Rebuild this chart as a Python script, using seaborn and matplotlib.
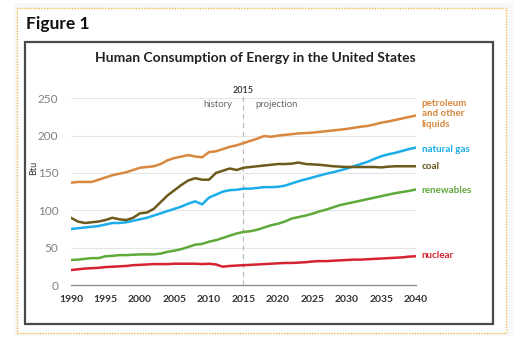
import numpy as np
import pandas as pd
import seaborn as sns
import matplotlib
matplotlib.use("Agg")
import matplotlib.pyplot as plt
from matplotlib.patches import Rectangle

years = list(range(1990, 2041))
petroleum = [137, 138, 138, 138, 141, 144, 147, 149, 151, 154, 157, 158, 159, 162, 167, 170, 172, 174, 172, 171,
             178, 179, 182, 185, 187, 190, 193, 196, 199.5, 198.5, 200, 201, 202, 203, 203.5, 204, 205, 206, 207, 208,
             209, 210.5, 212, 213, 215, 217.5, 219, 221, 223, 225, 227]
natural_gas = [75, 76, 77, 78, 79, 81, 83, 83, 84, 86, 88, 90, 93, 96, 99, 102, 105, 109, 112, 108,
               117, 121, 125, 127, 127.5, 129, 129, 130, 131, 131, 131.5, 133, 136, 139, 141.5, 144, 146.5, 149, 151, 153.5,
               156, 159, 162, 165, 169, 172.5, 175, 177, 179.5, 182, 184]
coal = [90, 85, 83, 84, 85, 87, 90, 88, 87, 90, 96, 97, 102, 111, 120, 127, 134, 140, 143, 141,
        141, 150, 153, 156, 154, 157, 158, 159, 160, 161, 162, 162, 162.5, 164, 162, 161.5, 161, 160, 159, 158.5,
        158, 158, 158, 158, 158, 157.5, 158.5, 159, 159, 159, 159]
renewables = [33.5, 34, 35, 36, 36, 38.5, 39, 40, 40, 40.5, 41, 41, 41, 42, 44.5, 46, 48, 51, 54, 55,
              58, 60, 63, 66, 69, 71, 72, 74, 77, 80, 82, 85, 89, 91, 93, 95.5, 98.5, 101, 104, 107,
              109, 111, 113, 115, 117, 119, 121, 123, 124.5, 126, 128]
nuclear = [20, 21, 22, 22.5, 23, 24, 24.5, 25, 25.5, 26.5, 27, 27.5, 28, 28, 28, 28.5, 28.5, 28.5, 28.5, 28,
           28.5, 27.5, 24.5, 25.5, 26, 26.5, 27, 27.5, 28, 28.5, 29, 29.5, 29.5, 30, 30.5, 31.5, 32, 32, 32.5, 33,
           33.5, 34, 34, 34.5, 35, 35.5, 36, 36.5, 37, 38, 38.5]

series_names = ["petroleum", "natural gas", "coal", "renewables", "nuclear"]
series_labels = ["petroleum\nand other\nliquids", "natural gas", "coal", "renewables", "nuclear"]
colors = ["#D9873F", "#1AADEA", "#6B5A1C", "#5FA83A", "#D52430"]
label_y = [229, 182, 159, 127, 39]

xticks = list(range(1990, 2041, 5))
yticks = [0, 50, 100, 150, 200, 250]

df = pd.DataFrame({
    "year": years * 5,
    "value": petroleum + natural_gas + coal + renewables + nuclear,
    "source": sum([[n] * len(years) for n in series_names], []),
})

sns.set_theme(style="white")
plt.rcParams["font.family"] = ["Lato", "DejaVu Sans"]

W, H = 528, 338
fig = plt.figure(figsize=(W / 100, H / 100), dpi=100)
fig.patch.set_facecolor("white")

def fx(px):
    return px / W

def fy(py):
    return 1 - py / H

def box(x0, y0, x1, y1, **kw):
    fig.patches.append(Rectangle((fx(x0), fy(y1)), fx(x1 - x0), (y1 - y0) / H,
                                 transform=fig.transFigure, **kw))

# light grey page, white area inside dotted orange border, inner dark box
box(14, 3, 513, 336, facecolor="#f8f8f8", edgecolor="none", zorder=0)
box(17, 8, 506, 333, facecolor="white", edgecolor="#F2B84B", linewidth=1.0, linestyle=(0, (1, 1)), zorder=0)
box(25, 42, 493, 324, facecolor="white", edgecolor="#4a4a4a", linewidth=1.6, zorder=1)

fig.text(fx(26), fy(24), "Figure 1", fontsize=12.5, fontweight="bold", color="#111111", va="center", ha="left")
fig.text(fx(255), fy(58), "Human Consumption of Energy in the United States", fontsize=10,
         fontweight="bold", color="#222222", ha="center", va="center")

ax = fig.add_axes([fx(71), fy(285), fx(416 - 71), (285 - 98.3) / H])
ax.set_facecolor("none")
ax.set_zorder(2)

sns.lineplot(data=df, x="year", y="value", hue="source", palette=dict(zip(series_names, colors)),
             linewidth=1.8, legend=False, ax=ax)

ax.set_xlim(1990, 2040)
ax.set_ylim(0, 250)
ax.set_xticks(xticks)
ax.set_xticklabels([str(t) for t in xticks], fontsize=7.5, fontweight="bold", color="#333333")
ax.set_yticks(yticks)
ax.set_yticklabels([str(t) for t in yticks], fontsize=8.5, color="#808080")
for t in yticks[1:]:
    ax.axhline(t, color="#e4e4e4", linewidth=0.8, zorder=0)
for s in ["top", "right", "left"]:
    ax.spines[s].set_visible(False)
ax.spines["bottom"].set_color("#888888")
ax.spines["bottom"].set_linewidth(0.9)
ax.tick_params(axis="x", direction="in", length=3, width=0.8, color="#888888", pad=7)
ax.tick_params(axis="y", length=0, pad=9)
ax.set_xlabel("")
ax.set_ylabel("Btu", fontsize=6.5, color="#333333")
ax.yaxis.set_label_coords(-0.096, 0.63)

ax.axvline(2015, ymin=0, ymax=1.02, color="#bbbbbb", linewidth=0.9, linestyle=(0, (4, 3)), zorder=1, clip_on=False)
ax.text(2015, 260, "2015", fontsize=6.5, fontweight="bold", color="#444444", ha="center", va="center")
ax.text(2013.3, 242, "history", fontsize=6.8, color="#666666", ha="right", va="center")
ax.text(2016.7, 242, "projection", fontsize=6.8, color="#666666", ha="left", va="center")

for lab, c, yv in zip(series_labels, colors, label_y):
    ax.text(2040.8, yv, lab, fontsize=7.1, fontweight="bold", color=c, ha="left", va="center",
            linespacing=1.15, clip_on=False)

fig.savefig("out.png", dpi=100)
